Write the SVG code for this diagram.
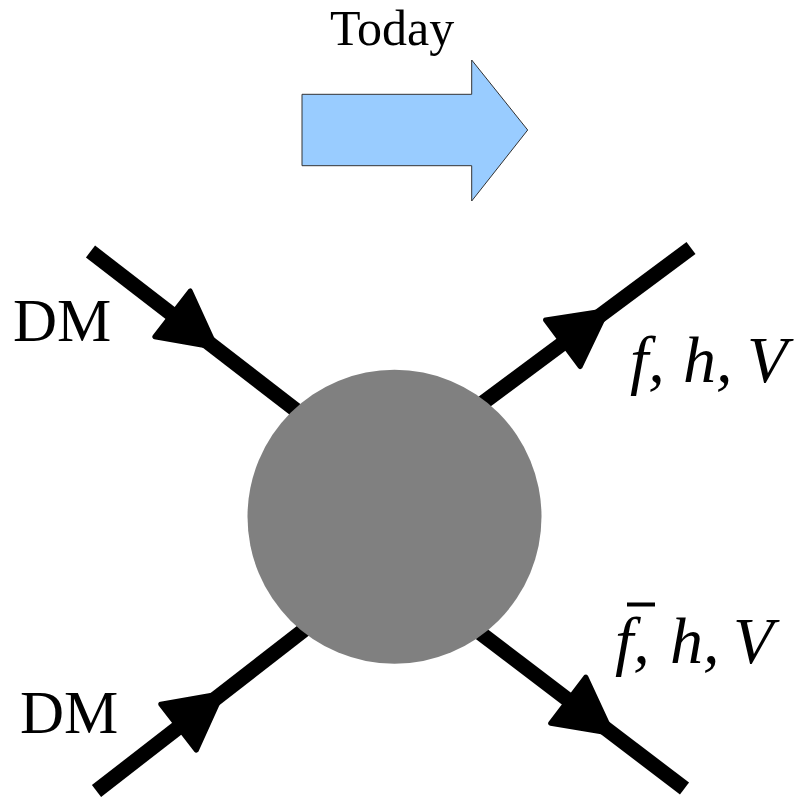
<svg xmlns="http://www.w3.org/2000/svg" xmlns:xlink="http://www.w3.org/1999/xlink" width="802" height="797" viewBox="0 0 802 797">
<style>
.lbl{font-family:"Liberation Serif","Times New Roman",serif;fill:#000}
.it{font-style:italic}
.leg{stroke:#000;stroke-width:15;stroke-linecap:butt;fill:none}
.head{fill:#000;stroke:#000;stroke-width:5;stroke-linejoin:round}
</style>
<defs>
<polygon id="ah" points="0,0 -55,-29 -55,29"/>
</defs>
<rect width="802" height="797" fill="#fff"/>
<g id="time-arrow">
<polygon points="302,94.3 471.7,94.3 471.7,60 527.7,130 471.7,201 471.7,165.7 302,165.7" fill="#99ccff" stroke="#333" stroke-width="1"/>
<text class="lbl" x="330" y="45" font-size="50">Today</text>
</g>
<g id="connectors">
<line class="leg" x1="90.5" y1="251.5" x2="330" y2="436.4"/>
<line class="leg" x1="691" y1="248" x2="450" y2="427.3"/>
<line class="leg" x1="96.5" y1="791" x2="335" y2="605.9"/>
<line class="leg" x1="684.5" y1="788.5" x2="450" y2="610"/>
<use xlink:href="#ah" class="head" transform="translate(216,347.5) rotate(37.7)"/>
<use xlink:href="#ah" class="head" transform="translate(607,310.5) rotate(-36.6)"/>
<use xlink:href="#ah" class="head" transform="translate(222,693.5) rotate(-37.8)"/>
<use xlink:href="#ah" class="head" transform="translate(612,733.5) rotate(37.3)"/>
</g>
<g id="blob">
<circle cx="394.5" cy="516.7" r="147" fill="#808080"/>
</g>
<g id="dm-top"><text class="lbl" x="13" y="341" font-size="61">DM</text></g>
<g id="dm-bottom"><text class="lbl" x="20" y="733" font-size="61">DM</text></g>
<g id="out-top"><text class="lbl it" y="382" font-size="66"><tspan x="630">f,</tspan><tspan x="683">h,</tspan><tspan x="747">V</tspan></text></g>
<g id="out-bottom">
<text class="lbl it" y="663" font-size="66"><tspan x="615">f,</tspan><tspan x="670">h,</tspan><tspan x="733">V</tspan></text>
<rect x="627" y="602.5" width="28" height="4" fill="#000"/>
</g>
</svg>
